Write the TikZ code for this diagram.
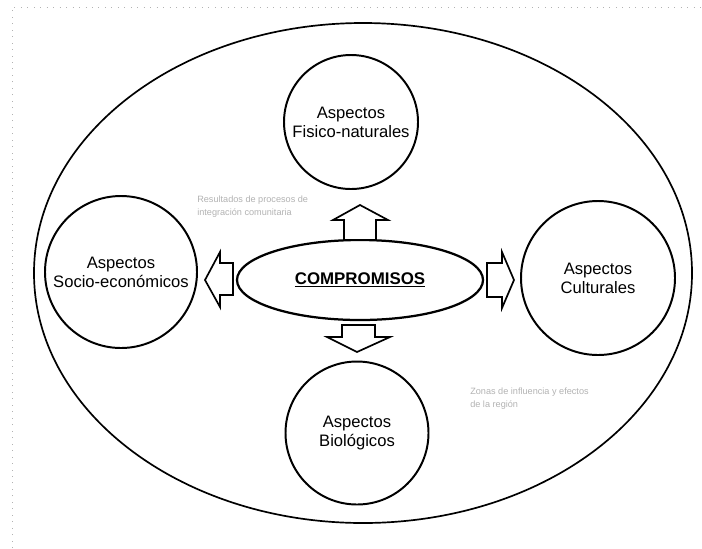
\documentclass[tikz,border=0pt]{standalone}
\usepackage{fontspec}
\setmainfont{Liberation Sans}
\usetikzlibrary{shapes.geometric}

\tikzset{
  aspect/.style={circle, draw, line width=1.4pt, minimum size=#1*0.025cm, align=center, inner sep=0pt,
    font=\fontsize{11.8}{13.5}\selectfont},
  blockarrow/.style={draw, line width=1.2pt, fill=white, line join=miter},
  note/.style={align=left, text=gray!60, font=\fontsize{6.5}{9}\selectfont, inner sep=0pt}
}

\begin{document}
\begin{tikzpicture}[x=0.025cm, y=-0.025cm]
\useasboundingbox (0, 0) rectangle (702, 548);

% scan frame
\draw[gray!60, loosely dotted, line width=0.6pt] (12, 548) -- (12, 7) -- (702, 7);

% outer ellipse
\node[ellipse, draw, line width=1.2pt, inner sep=0pt,
      minimum width=658*0.025cm, minimum height=500*0.025cm] (world) at (363, 273) {};

% aspects
\node[aspect=134] (fisico) at (351, 122) {Aspectos\\Fisico-naturales};
\node[aspect=152] (socio) at (121, 272) {Aspectos\\Socio-económicos};
\node[aspect=154] (cultural) at (598, 278) {Aspectos\\Culturales};
\node[aspect=143] (bio) at (357, 433) {Aspectos\\Biológicos};

% centre
\node[ellipse, draw, line width=1.6pt, minimum width=246*0.025cm, minimum height=80*0.025cm,
      inner sep=0pt, font=\fontsize{12}{14}\selectfont\bfseries] (comp) at (360, 280) {\underline{COMPROMISOS}};

% arrows
\draw[blockarrow] (344, 240) -- (344, 220) -- (333, 220) -- (360, 205)
  -- (388, 220) -- (376, 220) -- (376, 240) -- cycle;
\draw[blockarrow] (233, 263) -- (220, 263) -- (220, 252) -- (205, 280)
  -- (220, 307) -- (220, 295) -- (233, 295) -- cycle;
\draw[blockarrow] (487, 263) -- (502, 263) -- (502, 252) -- (514, 280)
  -- (502, 308) -- (502, 297) -- (487, 297) -- cycle;
\draw[blockarrow] (342, 325) -- (342, 337) -- (327, 337) -- (357, 352)
  -- (390, 337) -- (375, 337) -- (375, 325) -- cycle;

% notes
\node[note, anchor=north west] (noteA) at (197, 196) {Resultados de procesos de\\integración comunitaria};
\node[note, anchor=north west] (noteB) at (470, 388) {Zonas de influencia y efectos\\de la región};

\end{tikzpicture}
\end{document}
